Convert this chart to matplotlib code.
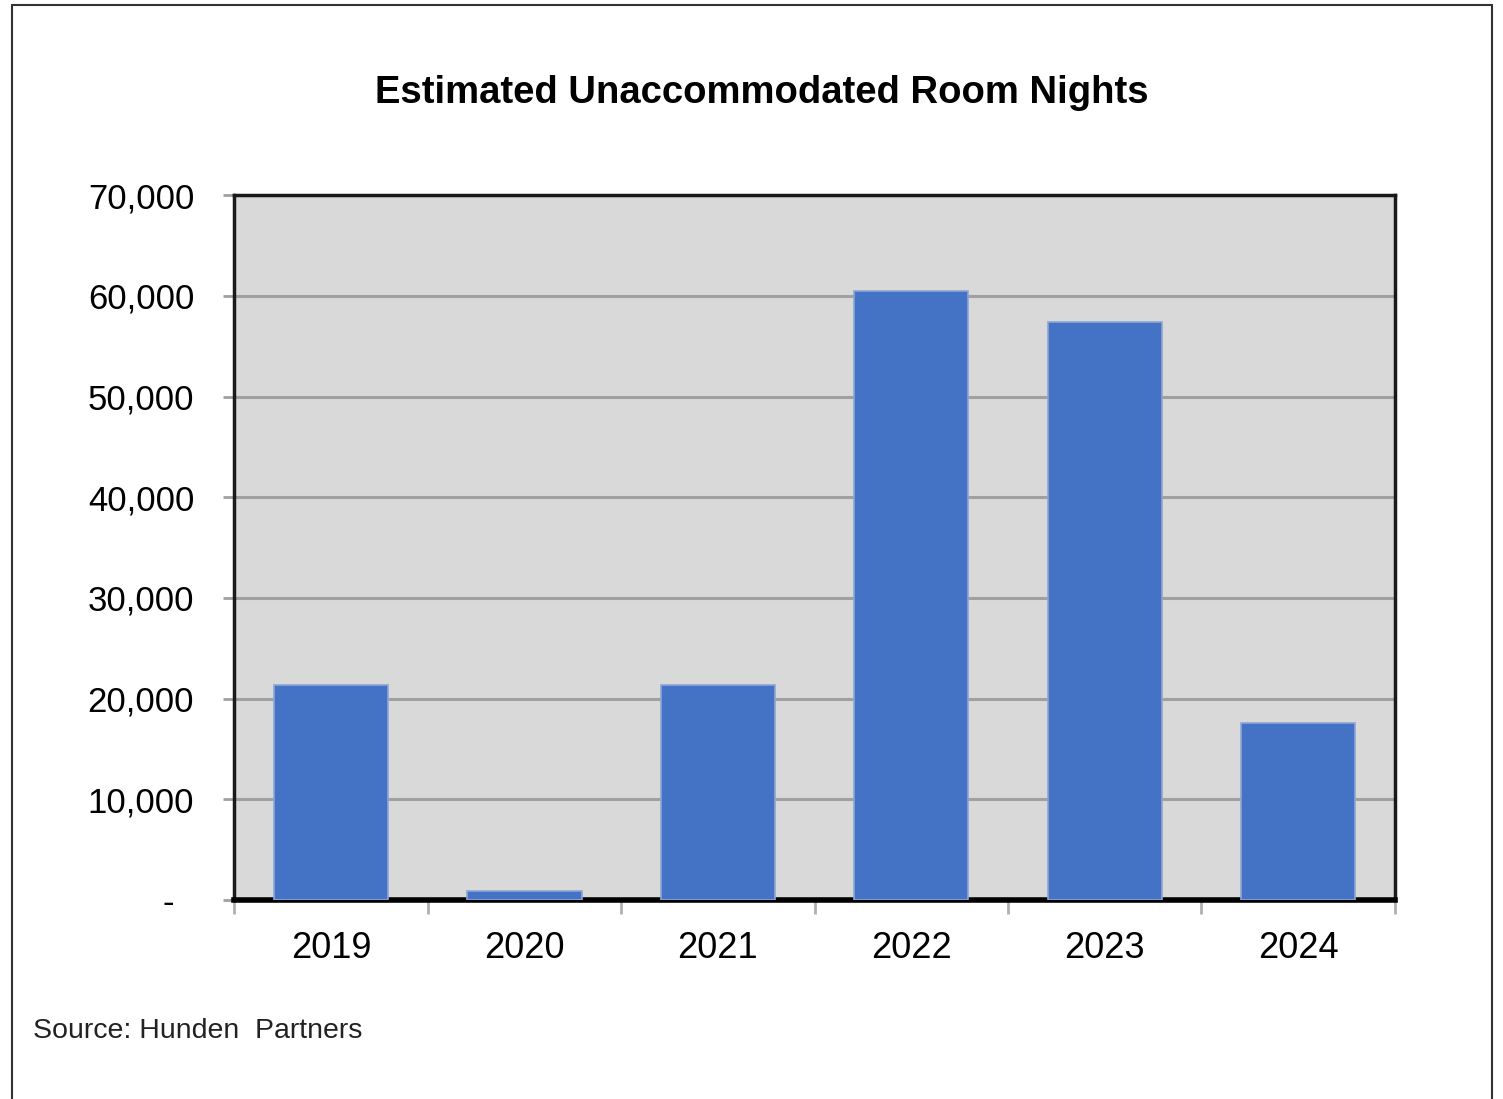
import matplotlib
matplotlib.use('Agg')
import matplotlib.pyplot as plt
from matplotlib.patches import Rectangle
from matplotlib.ticker import FuncFormatter, FixedLocator
import numpy as np

# Data
years = ['2019', '2020', '2021', '2022', '2023', '2024']
room_nights = [21400, 900, 21400, 60500, 57400, 17600]

plt.rcParams['font.family'] = ['Liberation Sans', 'DejaVu Sans']

fig = plt.figure(figsize=(15.03, 10.99), dpi=100)
ax = fig.add_axes([0.156, 0.181, 0.772, 0.6415])

x = np.arange(len(years))
ax.bar(x, room_nights, width=0.59, color='#4472C4', edgecolor='#8EA5D6',
       linewidth=1.2, zorder=3)

ax.set_facecolor('#D9D9D9')
ax.set_xlim(-0.5, len(years) - 0.5)
ax.set_ylim(0, 70000)
ax.set_yticks(range(0, 70001, 10000))
# accounting style: zero shown as a dash set in from the right
ax.yaxis.set_major_formatter(FuncFormatter(lambda v, p: '-  ' if v == 0 else f'{int(v):,}'))
ax.grid(axis='y', color='#A0A0A0', linewidth=2.2, zorder=1)

# categories labelled at centers, tick marks at boundaries
ax.set_xticks(x)
ax.set_xticklabels(years)
ax.tick_params(axis='x', which='major', length=0, pad=22, labelsize=26)
ax.xaxis.set_minor_locator(FixedLocator(np.arange(-0.5, len(years), 1.0)))
ax.tick_params(axis='x', which='minor', length=10, width=2, color='#B0B0B0')
ax.tick_params(axis='y', length=8, width=2, color='#A0A0A0', pad=21, labelsize=25)

for side in ['left', 'right', 'top']:
    ax.spines[side].set_color('#1a1a1a')
    ax.spines[side].set_linewidth(2.5)
ax.spines['bottom'].set_color('black')
ax.spines['bottom'].set_linewidth(4)

fig.text(0.507, 0.915, 'Estimated Unaccommodated Room Nights', ha='center',
         va='center', fontsize=27.5, fontweight='bold')
fig.text(0.022, 0.062, 'Source: Hunden  Partners', ha='left', va='center',
         fontsize=20.5, color='#222222')

# outer frame
fig.patches.append(Rectangle((0.008, -0.05), 0.985, 1.045, transform=fig.transFigure,
                             fill=False, edgecolor='#333333', linewidth=1.5))

plt.savefig('out.png', dpi=100)
